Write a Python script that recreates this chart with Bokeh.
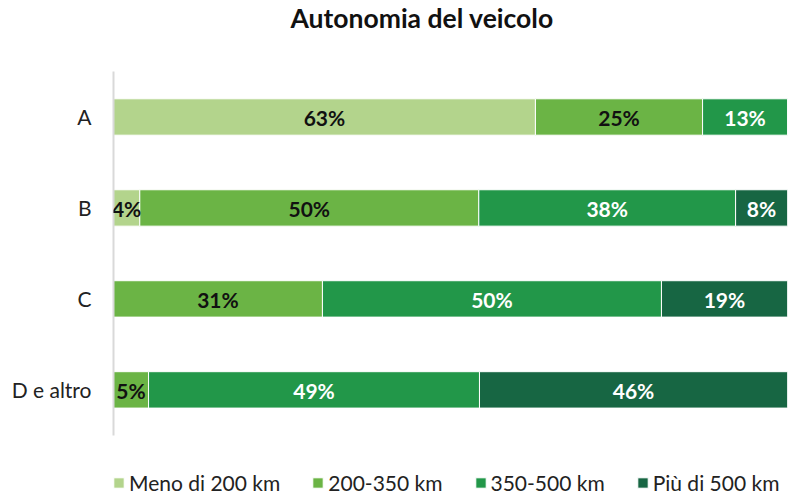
from bokeh.plotting import figure
from bokeh.models import ColumnDataSource, LabelSet, Range1d, Legend, LegendItem, FixedTicker, Title
from bokeh.core.properties import value
from bokeh.embed import file_html
from bokeh.resources import INLINE

categories = ["A", "B", "C", "D e altro"]
series = ["Meno di 200 km", "200-350 km", "350-500 km", "Più di 500 km"]
colors = ["#b3d48c", "#6bb445", "#229749", "#176643"]
label_colors = ["#111111", "#111111", "#ffffff", "#ffffff"]

meno_200 = [62.6, 3.9, 0.0, 0.0]
da_200_350 = [24.8, 50.3, 31.0, 5.2]
da_350_500 = [12.6, 38.1, 50.3, 49.1]
piu_500 = [0.0, 7.7, 18.7, 45.7]
values = [meno_200, da_200_350, da_350_500, piu_500]

FONT = "Lato"

n = len(categories)
ypos = [n - 1 - i for i in range(n)]  # A at top

p = figure(width=788, height=494, output_backend="svg", toolbar_location=None,
           y_range=Range1d(-1.15, n - 0.5), x_range=Range1d(0, 100),
           x_axis_location=None, min_border_left=113, min_border_right=1,
           min_border_top=70, min_border_bottom=0)

p.title.text = "Autonomia del veicolo"
p.title.text_font = FONT
p.title.text_font_size = "26.5px"
p.title.text_font_style = "bold"
p.title.text_color = "#111111"
p.title.align = "left"
p.title.offset = 177
p.title.vertical_align = "middle"
p.title.standoff = 0
# spacer between the title and the plot frame
spacer = Title(text=" ", text_font=FONT, text_font_size="22px", standoff=8)
p.add_layout(spacer, "above")

p.outline_line_color = None
p.grid.visible = False
p.background_fill_color = "white"
p.border_fill_color = "white"

yax = p.yaxis[0]
yax.ticker = FixedTicker(ticks=ypos)
yax.major_label_overrides = {y: c for y, c in zip(ypos, categories)}
yax.bounds = (-0.5, n - 0.5)
yax.major_tick_line_color = None
yax.minor_tick_line_color = None
yax.axis_line_color = "#d9d9d9"
yax.axis_line_width = 2
yax.major_label_text_font = FONT
yax.major_label_text_font_size = "21px"
yax.major_label_text_color = "#222222"
yax.major_label_standoff = 16

starts = [0.0] * n
items = []
for s, vals in enumerate(values):
    left = list(starts)
    right = [a + b for a, b in zip(starts, vals)]
    mid = [(a + b) / 2 for a, b in zip(left, right)]
    txt = [f"{round(v)}%" if v > 0 else "" for v in vals]
    src = ColumnDataSource(dict(y=ypos, left=left, right=right, mid=mid, txt=txt))
    r = p.hbar(y="y", left="left", right="right", height=0.4, source=src,
               fill_color=colors[s], line_color="white", line_width=1)
    items.append(LegendItem(label=series[s], renderers=[r]))
    lab = LabelSet(x="mid", y="y", text="txt", source=src, text_align="center",
                   text_baseline="middle", text_font=value(FONT), text_font_size="21px",
                   text_font_style="bold", text_color=label_colors[s], y_offset=-1)
    p.add_layout(lab)
    starts = right

legend = Legend(items=items, orientation="horizontal", location=(-1, -1),
                label_text_font=FONT, label_text_font_size="21px",
                label_text_color="#222222", glyph_width=13, glyph_height=13,
                label_standoff=4, spacing=31, padding=0, margin=0,
                border_line_color=None, background_fill_alpha=0)
p.add_layout(legend, "center")

open("out.html", "w").write(file_html(p, INLINE))
